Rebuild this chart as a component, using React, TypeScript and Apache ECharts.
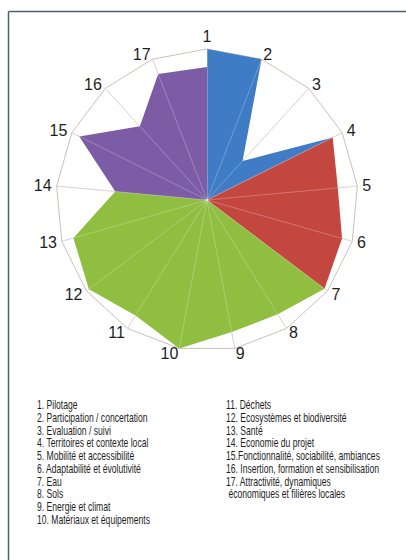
import { useEffect, useRef } from 'react';
import * as echarts from 'echarts';

const axisLabels = ['1', '2', '3', '4', '5', '6', '7', '8', '9', '10', '11', '12', '13', '14', '15', '16', '17'];
// values per axis 1..17 (0 = centre), max 100
const blueValues = [100, 100, 35, 93, 0, 0, 0, 0, 0, 0, 0, 0, 0, 0, 0, 0, 0];
const redValues = [0, 0, 0, 93, 87, 93, 97.5, 0, 0, 0, 0, 0, 0, 0, 0, 0, 0];
const greenValues = [0, 0, 0, 0, 0, 0, 97.5, 89, 89, 100, 90, 98, 92, 61, 0, 0, 0];
const purpleValues = [88, 0, 0, 0, 0, 0, 0, 0, 0, 0, 0, 0, 0, 61, 94.5, 66, 89.5];

const legendLeft = [
  '1. Pilotage',
  '2. Participation / concertation',
  '3. Evaluation / suivi',
  '4. Territoires et contexte local',
  '5. Mobilité et accessibilité',
  '6. Adaptabilité et évolutivité',
  '7. Eau',
  '8. Sols',
  '9. Energie et climat',
  '10. Matériaux et équipements',
];
const legendRight = [
  '11. Déchets',
  '12. Ecosystèmes et biodiversité',
  '13. Santé',
  '14. Economie du projet',
  '15.Fonctionnalité, sociabilité, ambiances',
  '16. Insertion, formation et sensibilisation',
  '17. Attractivité, dynamiques',
  ' économiques et filières locales',
];

// ECharts radar goes counter-clockwise: reorder to get clockwise 1..17
const order = [0, ...Array.from({ length: 16 }, (_, i) => 16 - i)];
const reorder = (arr: number[]) => order.map((i) => arr[i]);

const COLORS = ['#3f7cc5', '#c4473f', '#8fbe41', '#7b5ca5'];

export default function App() {
  const ref = useRef<HTMLDivElement>(null);
  useEffect(() => {
    const chart = echarts.init(ref.current!, null, { renderer: 'svg' });
    const indicator = order.map((i) => ({ name: axisLabels[i], max: 100, min: 0 }));
    const mkSeries = (vals: number[], color: string) => ({
      type: 'radar',
      radarIndex: 0,
      z: 2,
      symbol: 'none',
      silent: true,
      lineStyle: { width: 0, color },
      itemStyle: { color },
      areaStyle: { color, opacity: 1 },
      data: [{ value: reorder(vals) }],
    });
    const legendText = (lines: string[]) =>
      lines.map((t, i) => ({
        type: 'text',
        x: 0,
        y: i * 12.78,
        style: {
          text: t,
          fill: '#1e1e1e',
          font: '12px "Liberation Sans", Arial, sans-serif',
          textVerticalAlign: 'middle',
          textAlign: 'left',
        },
      }));
    chart.setOption({
      animation: false,
      backgroundColor: '#ffffff',
      radar: [
        {
          center: [207, 200],
          radius: 151,
          startAngle: 90,
          shape: 'polygon',
          splitNumber: 1,
          indicator,
          z: 0,
          axisName: {
            color: '#1e1e1e',
            fontSize: 16,
            fontFamily: '"Liberation Sans Narrow", "Arial Narrow", "Liberation Sans", Arial, sans-serif',
          },
          nameGap: 5,
          splitLine: { lineStyle: { color: '#cdbfb8', width: 1 } },
          splitArea: { show: false },
          axisLine: { lineStyle: { color: '#d3c7c1', width: 1 } },
        },
        {
          center: [207, 200],
          radius: 151,
          startAngle: 90,
          shape: 'polygon',
          splitNumber: 1,
          indicator,
          z: 5,
          axisName: { show: false },
          splitLine: { show: false },
          splitArea: { show: false },
          axisLine: { lineStyle: { color: 'rgba(255,255,255,0.25)', width: 1 } },
        },
      ],
      series: [
        mkSeries(blueValues, COLORS[0]),
        mkSeries(redValues, COLORS[1]),
        mkSeries(greenValues, COLORS[2]),
        mkSeries(purpleValues, COLORS[3]),
      ],
      graphic: [
        {
          type: 'line',
          shape: { x1: 8.5, y1: 11.5, x2: 406, y2: 11.5 },
          style: { stroke: '#4c5f6b', lineWidth: 1.5 },
        },
        {
          type: 'line',
          shape: { x1: 8.5, y1: 11.5, x2: 8.5, y2: 560 },
          style: { stroke: '#4c5f6b', lineWidth: 1.5 },
        },
        {
          type: 'group',
          x: 37,
          y: 405,
          scaleX: 0.715,
          children: legendText(legendLeft),
        },
        {
          type: 'group',
          x: 226,
          y: 405,
          scaleX: 0.715,
          children: legendText(legendRight),
        },
      ],
    });
    return () => chart.dispose();
  }, []);
  return (
    <div
      ref={ref}
      style={{ position: 'absolute', left: 0, top: 0, width: 406, height: 560, background: '#fff' }}
    />
  );
}
